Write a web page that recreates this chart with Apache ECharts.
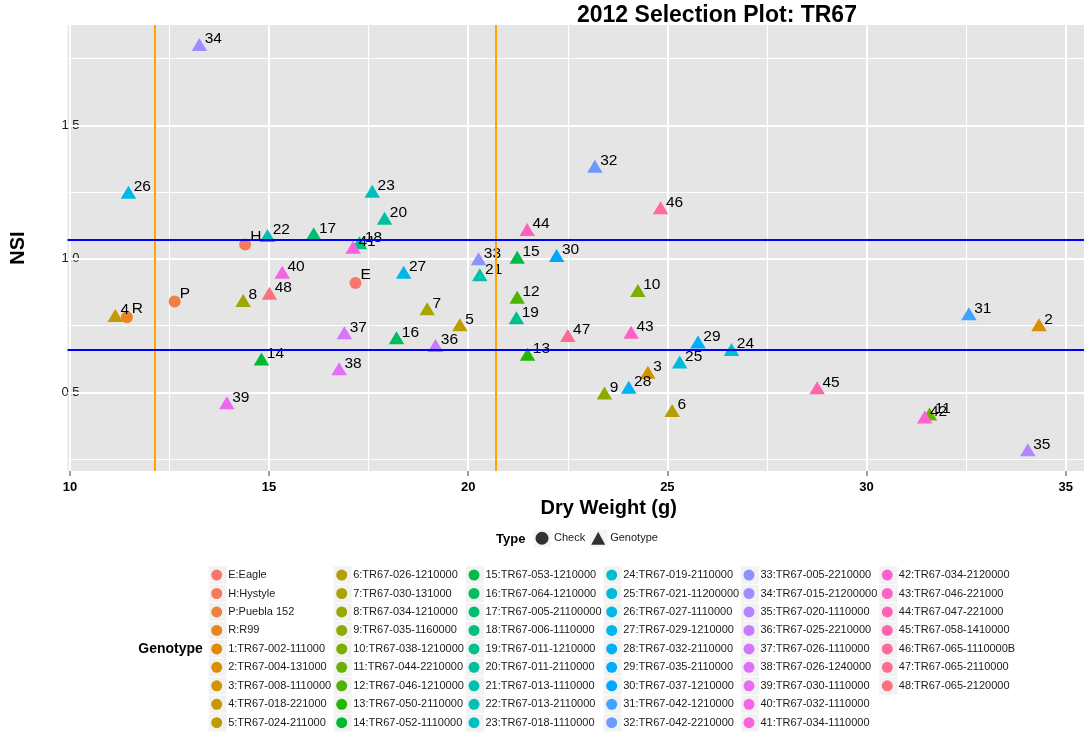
<!DOCTYPE html>
<html>
<head>
<meta charset="utf-8">
<script src="https://cdn.jsdelivr.net/npm/echarts@6/dist/echarts.min.js"></script>
<style>html,body{margin:0;padding:0;background:#fff;}#c{width:1084px;height:734px;}</style>
</head>
<body>
<div id="c"></div>
<script>
// ---------------- data ----------------
const ids = ['E','H','P','R','1','2','3','4','5','6','7','8','9','10','11','12','13','14','15','16','17','18','19','20','21','22','23','24','25','26','27','28','29','30','31','32','33','34','35','36','37','38','39','40','41','42','43','44','45','46','47','48'];
const names = ['Eagle','Hystyle','Puebla 152','R99',
 'TR67-002-111000','TR67-004-131000','TR67-008-1110000','TR67-018-221000','TR67-024-211000',
 'TR67-026-1210000','TR67-030-131000','TR67-034-1210000','TR67-035-1160000','TR67-038-1210000','TR67-044-2210000','TR67-046-1210000','TR67-050-2110000','TR67-052-1110000',
 'TR67-053-1210000','TR67-064-1210000','TR67-005-21100000','TR67-006-1110000','TR67-011-1210000','TR67-011-2110000','TR67-013-1110000','TR67-013-2110000','TR67-018-1110000',
 'TR67-019-2110000','TR67-021-11200000','TR67-027-1110000','TR67-029-1210000','TR67-032-2110000','TR67-035-2110000','TR67-037-1210000','TR67-042-1210000','TR67-042-2210000',
 'TR67-005-2210000','TR67-015-21200000','TR67-020-1110000','TR67-025-2210000','TR67-026-1110000','TR67-026-1240000','TR67-030-1110000','TR67-032-1110000','TR67-034-1110000',
 'TR67-034-2120000','TR67-046-221000','TR67-047-221000','TR67-058-1410000','TR67-065-1110000B','TR67-065-2110000','TR67-065-2120000'];
const types = ['Check','Check','Check','Check'].concat(new Array(48).fill('Genotype'));
const dryWeight = [17.17,14.40,12.63,11.43,
 null,34.33,24.51,11.14,19.79,25.12,18.97,14.35,23.42,24.26,
 31.58,21.23,21.49,14.81,21.23,18.20,16.12,17.27,21.21,17.90,
 20.29,14.96,17.59,26.61,25.31,11.47,18.38,24.03,25.77,22.22,
 32.57,23.18,20.26,13.25,34.05,19.18,16.89,16.76,13.94,15.33,
 17.11,31.46,24.09,21.48,28.76,24.83,22.50,15.01];
const nsi = [0.909,1.054,0.840,0.781,
 null,0.753,0.575,0.788,0.753,0.432,0.813,0.844,0.497,0.881,
 0.419,0.856,0.642,0.625,1.006,0.704,1.094,1.060,0.779,1.152,
 0.940,1.087,1.253,0.660,0.613,1.249,0.950,0.519,0.688,1.012,
 0.794,1.347,1.000,1.803,0.285,0.675,0.723,0.588,0.461,0.950,
 1.043,0.407,0.725,1.110,0.517,1.191,0.713,0.871];
const xMajorTicks = [10,15,20,25,30,35];
const xMinorTicks = [12.5,17.5,22.5,27.5,32.5];
const yMajorTicks = [0.5,1.0,1.5];
const yMinorTicks = [0.25,0.75,1.25,1.75];
const dryWeightCuts = [12.12,20.68];
const nsiCuts = [1.0685,0.659];
const typeLevels = ['Check','Genotype'];

// ---------------- palette (ggplot hue) ----------------
function hclHex(h,c,l){
  const Xn=95.047,Yn=100,Zn=108.883;
  const d=Xn+15*Yn+3*Zn, un=4*Xn/d, vn=9*Yn/d;
  const hr=h*Math.PI/180, U=c*Math.cos(hr), V=c*Math.sin(hr);
  const Y=Yn*(l>8?Math.pow((l+16)/116,3):l/903.3);
  const u=U/(13*l)+un, v=V/(13*l)+vn;
  const X=9*Y*u/(4*v), Z=-X/3-5*Y+3*Y/v;
  const x=X/100,y=Y/100,z=Z/100;
  const r=3.240479*x-1.537150*y-0.498535*z;
  const g=-0.969256*x+1.875992*y+0.041556*z;
  const b=0.055648*x-0.204043*y+1.057311*z;
  const gam=t=>{t=t<=0.0031308?12.92*t:1.055*Math.pow(t,1/2.4)-0.055;return Math.round(Math.max(0,Math.min(1,t))*255);};
  return '#'+[r,g,b].map(t=>gam(t).toString(16).padStart(2,'0')).join('');
}
const nLev = ids.length;
const palette = ids.map((_,i)=>hclHex(15+360*i/nLev,100,65));

// ---------------- build ----------------
const FONT = 'Liberation Sans';
const legendNames = ids.map((id,i)=>id+':'+names[i]);

const series = [];
const gridLineData = []
  .concat(xMinorTicks.map(v=>({xAxis:v,lineStyle:{color:'#ffffff',width:1.2,type:'solid'}})))
  .concat(yMinorTicks.map(v=>({yAxis:v,lineStyle:{color:'#ffffff',width:1.2,type:'solid'}})))
  .concat(xMajorTicks.map(v=>({xAxis:v,lineStyle:{color:'#ffffff',width:2,type:'solid'}})))
  .concat(yMajorTicks.map(v=>({yAxis:v,lineStyle:{color:'#ffffff',width:2,type:'solid'}})));
series.push({type:'scatter',name:'__grid',data:[],silent:true,z:1,
  markLine:{silent:true,z:1,symbol:['none','none'],label:{show:false},animation:false,emphasis:{disabled:true},data:gridLineData}});

ids.forEach((id,i)=>{
  const isCheck = types[i]==='Check';
  series.push({
    type:'scatter', name:legendNames[i], z:3,
    symbol: isCheck?'circle':'triangle',
    symbolSize: isCheck?12:[15.5,13],
    itemStyle:{color:palette[i],opacity:1},
    data: dryWeight[i]==null?[]:[[dryWeight[i],nsi[i]]],
    label:{show:true,formatter:id,position:'inside',align:'left',verticalAlign:'middle',
      offset: isCheck?[5,-8.1]:[5.3,-5.4],
      fontFamily:FONT,fontSize:15.5,color:'#000'},
    emphasis:{disabled:true},
    animation:false
  });
});
series.push({type:'scatter',name:'__ref',data:[],silent:true,z:5,
  markLine:{silent:true,z:5,symbol:['none','none'],label:{show:false},animation:false,emphasis:{disabled:true},
    data:[].concat(dryWeightCuts.map(v=>({xAxis:v,lineStyle:{color:'#FFA500',width:2,type:'solid'}})))
            .concat(nsiCuts.map(v=>({yAxis:v,lineStyle:{color:'#0000FF',width:2,type:'solid'}})))}});
typeLevels.forEach(t=>series.push({type:'scatter',name:t,data:[],itemStyle:{color:'#000'}}));

const colStarts=[0,9,18,27,36,45], colEnds=[9,18,27,36,45,52];
const colCenters=[217.7,342.7,475,612.7,750,888.3];
const legends=[];
colStarts.forEach((s,k)=>{
  const sub=legendNames.slice(s,colEnds[k]);
  legends.push({orient:'vertical',left:colCenters[k]-9,top:566.3,padding:0,itemGap:0.96,
    itemWidth:18,itemHeight:17.5,icon:'rect',selectedMode:false,z:2,
    itemStyle:{color:'#F2F2F2',borderWidth:0},
    textStyle:{fontFamily:FONT,fontSize:11,lineHeight:17.5,color:'rgba(0,0,0,0)'},data:sub});
  legends.push({orient:'vertical',left:colCenters[k]-6.5,top:566.3,padding:0,itemGap:0.96,
    itemWidth:13,itemHeight:11,icon:'circle',selectedMode:false,z:3,
    textStyle:{fontFamily:FONT,fontSize:11,lineHeight:17.5,color:'#1a1a1a'},data:sub});
});
legends.push({orient:'horizontal',left:533.5,top:529.5,padding:0,itemGap:2,itemWidth:18,itemHeight:17.5,
  icon:'rect',selectedMode:false,z:2,itemStyle:{color:'#F2F2F2',borderWidth:0},
  textStyle:{fontFamily:FONT,fontSize:11,lineHeight:17.5,color:'rgba(0,0,0,0)'},data:typeLevels});
legends.push({orient:'horizontal',left:535.5,top:529.5,padding:0,itemGap:6,itemWidth:14,itemHeight:13,
  symbolKeepAspect:false,selectedMode:false,z:3,
  textStyle:{fontFamily:FONT,fontSize:11,lineHeight:17.5,color:'#1a1a1a'},
  data:[{name:typeLevels[0],icon:'circle'},{name:typeLevels[1],icon:'triangle'}]});

const option = {
  animation:false,
  backgroundColor:'#ffffff',
  title:[
    {text:'2012 Selection Plot: TR67',left:577,top:1,padding:0,
      textStyle:{fontFamily:FONT,fontSize:23,fontWeight:'bold',color:'#000',lineHeight:30}},
    {text:'Type',left:496,top:529,padding:0,
      textStyle:{fontFamily:FONT,fontSize:13,fontWeight:'bold',color:'#000',lineHeight:20}},
    {text:'Genotype',left:138.3,top:639,padding:0,
      textStyle:{fontFamily:FONT,fontSize:14,fontWeight:'bold',color:'#000',lineHeight:20}}
  ],
  legend:legends,
  grid:{left:67.5,right:0,top:25,bottom:263,show:true,backgroundColor:'#E5E5E5',borderWidth:0,containLabel:false,outerBoundsMode:'none'},
  xAxis:{type:'value',min:9.94,max:35.46,
    axisLine:{show:false},splitLine:{show:false},minorSplitLine:{show:false},
    axisTick:{show:true,customValues:xMajorTicks,length:5,lineStyle:{color:'#7f7f7f',width:1.5}},
    axisLabel:{customValues:xMajorTicks,fontFamily:FONT,fontSize:13,fontWeight:'bold',color:'#000',margin:9.5},
    name:'Dry Weight (g)',nameLocation:'middle',nameGap:27,
    nameTextStyle:{fontFamily:FONT,fontSize:20,fontWeight:'bold',color:'#000',padding:[0,0,0,66]}},
  yAxis:{type:'value',min:0.205,max:1.876,
    axisLine:{show:false},splitLine:{show:false},minorSplitLine:{show:false},
    axisTick:{show:false,customValues:yMajorTicks},
    axisLabel:{customValues:yMajorTicks,formatter:v=>v.toFixed(1),fontFamily:FONT,fontSize:13,color:'#1a1a1a',margin:-12},
    name:'NSI',nameLocation:'middle',nameGap:39,nameRotate:90,
    nameTextStyle:{fontFamily:FONT,fontSize:20,fontWeight:'bold',color:'#000'}},
  series:series
};
const chart = echarts.init(document.getElementById('c'),null,{renderer:'canvas'});
chart.setOption(option);
</script>
</body>
</html>
